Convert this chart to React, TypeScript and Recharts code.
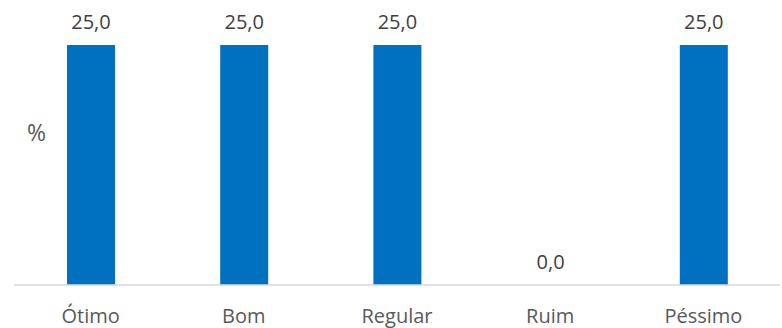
import { Bar, BarChart, LabelList, XAxis, YAxis } from "recharts";

const categories = ["Ótimo", "Bom", "Regular", "Ruim", "Péssimo"];
const percents = [25.0, 25.0, 25.0, 0.0, 25.0];

const data = categories.map((name, i) => ({ name, value: percents[i] }));

const fmt = (v: any) => Number(v).toFixed(1).replace(".", ",");

export default function App() {
  return (
    <div
      style={{
        position: "absolute",
        left: 0,
        top: 0,
        width: 782,
        height: 328,
        background: "#fff",
        fontFamily: "'Open Sans', sans-serif",
      }}
    >
      <BarChart
        width={782}
        height={328}
        data={data}
        margin={{ top: 45, right: 2, bottom: 3, left: 14 }}
      >
        <XAxis
          dataKey="name"
          axisLine={{ stroke: "#d9d9d9", strokeWidth: 1.5 }}
          tickLine={false}
          height={40}
          tick={{ fill: "#595959", fontSize: 20 }}
          tickMargin={18}
        />
        <YAxis hide domain={[0, 25]} />
        <Bar
          dataKey="value"
          fill="#0070c0"
          barSize={48}
          minPointSize={(v: any) => (v === 0 ? 0.01 : 0)}
          isAnimationActive={false}
        >
          <LabelList
            dataKey="value"
            position="top"
            offset={16}
            formatter={fmt}
            fill="#404040"
            fontSize={20}
          />
        </Bar>
      </BarChart>
      <div
        style={{
          position: "absolute",
          left: 27,
          top: 116,
          fontSize: 23,
          color: "#595959",
        }}
      >
        %
      </div>
    </div>
  );
}
